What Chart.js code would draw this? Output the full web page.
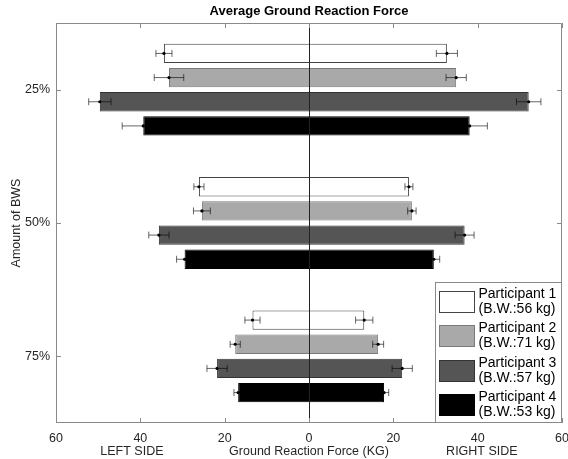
<!DOCTYPE html>
<html>
<head>
<meta charset="utf-8">
<script src="https://cdn.jsdelivr.net/npm/chart.js@4.4.0/dist/chart.umd.min.js"></script>
<style>
  html, body { margin: 0; padding: 0; background: #fff; }
  #wrap { width: 568px; height: 459px; }
</style>
</head>
<body>
<div id="wrap"><canvas id="grfChart"></canvas></div>
<script>
// BWS levels
const categories = ["25%", "50%", "75%"];
const xTicks = [-60, -40, -20, 0, 20, 40, 60];

// left / right side force (KG), with error (±)
const p1Left = [34.4, 26.1, 13.4];
const p1Right = [32.7, 23.7, 13.1];
const p1LeftErr = [1.9, 1.2, 1.8];
const p1RightErr = [2.5, 0.95, 2.05];

const p2Left = [33.2, 25.4, 17.5];
const p2Right = [34.9, 24.4, 16.4];
const p2LeftErr = [3.5, 2.0, 1.2];
const p2RightErr = [2.4, 1.0, 1.3];

const p3Left = [49.6, 35.6, 21.8];
const p3Right = [52.1, 36.9, 22.1];
const p3LeftErr = [2.65, 2.4, 2.4];
const p3RightErr = [2.9, 2.25, 2.4];

const p4Left = [39.3, 29.5, 16.8];
const p4Right = [38.1, 29.6, 17.8];
const p4LeftErr = [5.0, 1.9, 1.0];
const p4RightErr = [4.2, 1.4, 1.1];

const legendLines = [
  ["Participant 1", "(B.W.:56 kg)"],
  ["Participant 2", "(B.W.:71 kg)"],
  ["Participant 3", "(B.W.:57 kg)"],
  ["Participant 4", "(B.W.:53 kg)"]
];

const FONT = "'Liberation Sans', Arial, Helvetica, sans-serif";

function makeSet(label, left, right, errL, errR, fill, border) {
  return {
    label: label,
    data: left.map((v, i) => [-v, right[i]]),
    leftVals: left,
    rightVals: right,
    errLeft: errL,
    errRight: errR,
    backgroundColor: fill,
    borderColor: border,
    borderWidth: 1,
    borderSkipped: false,
    categoryPercentage: 0.725,
    barPercentage: 0.8
  };
}

// error bars, zero line, box with inward ticks, text
const framePlugin = {
  id: "frame",
  afterDatasetsDraw(chart) {
    const ctx = chart.ctx;
    const a = chart.chartArea;
    const x = chart.scales.x, y = chart.scales.y;

    ctx.save();
    chart.data.datasets.forEach((ds, i) => {
      const meta = chart.getDatasetMeta(i);
      meta.data.forEach((bar, j) => {
        const yc = bar.y;
        const ends = [[-ds.leftVals[j], ds.errLeft[j]], [ds.rightVals[j], ds.errRight[j]]];
        ends.forEach(([v, e]) => {
          const x0 = x.getPixelForValue(v - e);
          const x1 = x.getPixelForValue(v + e);
          const xm = x.getPixelForValue(v);
          ctx.strokeStyle = "rgba(0,0,0,0.6)";
          ctx.lineWidth = 1;
          ctx.beginPath();
          ctx.moveTo(x0, yc); ctx.lineTo(x1, yc);
          ctx.moveTo(x0, yc - 3.5); ctx.lineTo(x0, yc + 3.5);
          ctx.moveTo(x1, yc - 3.5); ctx.lineTo(x1, yc + 3.5);
          ctx.stroke();
          ctx.fillStyle = "#000";
          ctx.beginPath();
          ctx.arc(xm, yc, 1.6, 0, Math.PI * 2);
          ctx.fill();
        });
      });
    });

    // zero line
    const x0 = Math.round(x.getPixelForValue(0)) + 0.5;
    ctx.strokeStyle = "#222";
    ctx.lineWidth = 1;
    ctx.beginPath();
    ctx.moveTo(x0, a.top); ctx.lineTo(x0, a.bottom);
    ctx.stroke();

    // box + inward ticks
    ctx.strokeStyle = "#8a8a8a";
    ctx.beginPath();
    ctx.rect(Math.round(a.left) + 0.5, Math.round(a.top) + 0.5,
             Math.round(a.right - a.left) - 1, Math.round(a.bottom - a.top) - 1);
    xTicks.forEach(t => {
      const px = Math.round(x.getPixelForValue(t)) + 0.5;
      ctx.moveTo(px, a.top); ctx.lineTo(px, a.top + 5);
      ctx.moveTo(px, a.bottom); ctx.lineTo(px, a.bottom - 5);
    });
    categories.forEach((c, i) => {
      const py = Math.round(y.getPixelForValue(i)) + 0.5;
      ctx.moveTo(a.left, py); ctx.lineTo(a.left + 5, py);
      ctx.moveTo(a.right, py); ctx.lineTo(a.right - 5, py);
    });
    ctx.stroke();
    ctx.restore();
  },
  afterDraw(chart) {
    const ctx = chart.ctx;
    const a = chart.chartArea;
    const x = chart.scales.x;
    const ds = chart.data.datasets;

    ctx.save();
    ctx.fillStyle = "#000";
    ctx.textAlign = "center";
    ctx.textBaseline = "middle";
    ctx.font = "bold 13px " + FONT;
    ctx.fillText("Average Ground Reaction Force", (a.left + a.right) / 2, 11);

    ctx.fillStyle = "#262626";
    ctx.font = "12.5px " + FONT;
    ctx.fillText("LEFT SIDE", x.getPixelForValue(-42), 452);
    ctx.fillText("Ground Reaction Force (KG)", x.getPixelForValue(0), 452);
    ctx.fillText("RIGHT SIDE", x.getPixelForValue(41), 452);

    ctx.translate(17, (a.top + a.bottom) / 2);
    ctx.rotate(-Math.PI / 2);
    ctx.fillText("Amount of BWS", 0, 0);
    ctx.restore();

    // legend
    ctx.save();
    const lw = 127, lh = 141;
    const lx = Math.round(a.right - lw) + 0.5, ly = Math.round(a.bottom - lh) + 0.5;
    ctx.fillStyle = "#fff";
    ctx.fillRect(lx, ly, lw - 1, lh - 1);
    ctx.strokeStyle = "#8a8a8a";
    ctx.lineWidth = 1;
    ctx.strokeRect(lx, ly, lw - 1, lh - 1);
    ctx.font = "14px " + FONT;
    ctx.textAlign = "left";
    ctx.textBaseline = "middle";
    legendLines.forEach((lines, i) => {
      const sy = Math.round(ly + 8 + i * 34.5) + 0.5;
      ctx.fillStyle = ds[i].backgroundColor;
      ctx.fillRect(lx + 4, sy, 35, 21);
      ctx.strokeStyle = ds[i].borderColor;
      ctx.strokeRect(lx + 4, sy, 35, 21);
      ctx.fillStyle = "#000";
      ctx.fillText(lines[0], lx + 43, sy + 3);
      ctx.fillText(lines[1], lx + 43, sy + 18);
    });
    ctx.restore();
  }
};

new Chart(document.getElementById("grfChart"), {
  type: "bar",
  data: {
    labels: categories,
    datasets: [
      makeSet("Participant 1", p1Left, p1Right, p1LeftErr, p1RightErr, "#ffffff", "#444444"),
      makeSet("Participant 2", p2Left, p2Right, p2LeftErr, p2RightErr, "#a9a9a9", "#7a7a7a"),
      makeSet("Participant 3", p3Left, p3Right, p3LeftErr, p3RightErr, "#555555", "#333333"),
      makeSet("Participant 4", p4Left, p4Right, p4LeftErr, p4RightErr, "#000000", "#000000")
    ]
  },
  options: {
    indexAxis: "y",
    responsive: true,
    maintainAspectRatio: false,
    animation: false,
    layout: { padding: { top: 23, right: 6, left: 0, bottom: 0 } },
    plugins: {
      legend: { display: false },
      title: { display: false },
      tooltip: { enabled: false }
    },
    scales: {
      x: {
        min: -60,
        max: 60,
        afterBuildTicks: s => { s.ticks = xTicks.map(v => ({ value: v })); },
        afterFit: s => { s.height = 36; s.paddingLeft = 0; s.paddingRight = 0; },
        grid: { display: false, drawTicks: false },
        border: { display: false },
        ticks: {
          color: "#262626",
          font: { family: FONT, size: 12.5 },
          padding: 8,
          maxRotation: 0,
          callback: v => Math.abs(v)
        }
      },
      y: {
        afterFit: s => { s.width = 56; s.paddingTop = 0; s.paddingBottom = 0; },
        grid: { display: false, drawTicks: false },
        border: { display: false },
        ticks: {
          color: "#262626",
          font: { family: FONT, size: 12.5 },
          padding: 6
        }
      }
    }
  },
  plugins: [framePlugin]
});
</script>
</body>
</html>
